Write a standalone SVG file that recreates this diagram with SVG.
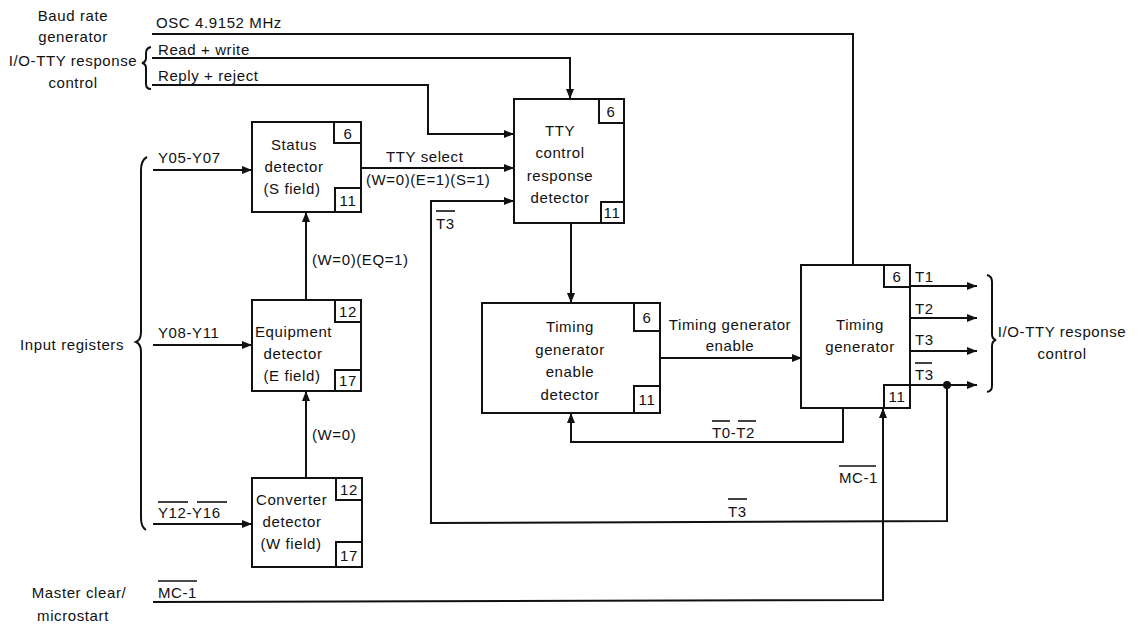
<svg xmlns="http://www.w3.org/2000/svg" width="1139" height="626" viewBox="0 0 1139 626">
<style>
text{font-family:"Liberation Sans",Arial,sans-serif;font-size:15px;letter-spacing:0.6px;fill:#111}
.m{text-anchor:middle}
.box{fill:#fff;stroke:#111;stroke-width:2}
.num{fill:#fff;stroke:#111;stroke-width:2}
.w{fill:none;stroke:#111;stroke-width:2}
.a{fill:none;stroke:#111;stroke-width:2;marker-end:url(#ah)}
.ob{stroke:#111;stroke-width:1.6}
</style>
<defs>
<marker id="ah" viewBox="0 0 10 8" refX="10" refY="4" markerWidth="5" markerHeight="4" orient="auto" markerUnits="strokeWidth">
<path d="M0,0 L10,4 L0,8 z" fill="#111"/>
</marker>
</defs>
<rect width="1139" height="626" fill="#fff"/>

<g id="labels-left">
<text class="m" x="73" y="21">Baud rate</text>
<text class="m" x="73" y="42">generator</text>
<text class="m" x="73" y="66">I/O-TTY response</text>
<text class="m" x="73" y="88">control</text>
<text x="156" y="28">OSC 4.9152 MHz</text>
<text x="158" y="55">Read + write</text>
<text x="158" y="81">Reply + reject</text>
<path class="w" d="M151,47 Q146,48 146,53 L146,58 Q146,62 142,63 Q146,64 146,68 L146,84 Q146,89 151,89"/>
<text x="20" y="350">Input registers</text>
<path class="w" d="M147,157 Q141,160 141,170 L141,332 Q141,340 136,342 Q141,344 141,352 L141,518 Q141,527 146,530"/>
<text class="m" x="79" y="598">Master clear/</text>
<text class="m" x="73" y="621">microstart</text>
</g>

<g id="connectors">
<path class="w" d="M152,34 L853,34 L853,265"/>
<path class="a" d="M152,58 L570,58 L570,99"/>
<path class="a" d="M152,85 L428,85 L428,134 L514,134"/>
<path class="a" d="M153,170 L252,170"/>
<text x="158" y="163">Y05-Y07</text>
<path class="a" d="M153,345 L252,345"/>
<text x="158" y="338">Y08-Y11</text>
<path class="a" d="M153,524 L252,524"/>
<text x="158" y="518">Y12-Y16</text>
<line class="ob" x1="158" y1="502" x2="188" y2="502"/>
<line class="ob" x1="197" y1="502" x2="227" y2="502"/>
<path class="a" d="M306,300 L306,212"/>
<text x="312" y="265">(W=0)(EQ=1)</text>
<path class="a" d="M306,478 L306,391"/>
<text x="312" y="440">(W=0)</text>
<path class="a" d="M361,168 L514,168"/>
<text x="386" y="162">TTY select</text>
<text x="366" y="185">(W=0)(E=1)(S=1)</text>
<path class="a" d="M571,223 L571,303"/>
<path class="a" d="M660,358 L802,358"/>
<text class="m" x="730" y="330">Timing generator</text>
<text class="m" x="730" y="351">enable</text>
<path class="a" d="M843,408 L843,442 L571,442 L571,413"/>
<text x="712" y="438">T0-T2</text>
<line class="ob" x1="712" y1="421" x2="730" y2="421"/>
<line class="ob" x1="738" y1="421" x2="756" y2="421"/>
<path class="a" d="M910,286 L977,286"/>
<path class="a" d="M910,318 L977,318"/>
<path class="a" d="M910,351 L977,351"/>
<path class="a" d="M910,385 L977,385"/>
<text x="915" y="282">T1</text>
<text x="915" y="314">T2</text>
<text x="915" y="345">T3</text>
<text x="915" y="380">T3</text>
<line class="ob" x1="915" y1="363" x2="932" y2="363"/>
<circle cx="947" cy="385" r="4" fill="#111"/>
<path class="a" d="M947,385 L947,521 L431,523 L431,201 L514,201"/>
<text x="436" y="229">T3</text>
<line class="ob" x1="436" y1="211" x2="455" y2="211"/>
<text x="728" y="517">T3</text>
<line class="ob" x1="728" y1="499" x2="747" y2="499"/>
<path class="a" d="M153,602 L883,600 L883,408"/>
<text x="158" y="598">MC-1</text>
<line class="ob" x1="158" y1="581" x2="197" y2="581"/>
<text x="839" y="483">MC-1</text>
<line class="ob" x1="839" y1="466" x2="876" y2="466"/>
<path class="w" d="M987,275 Q992,276 992,282 L992,334 Q992,339 996,340 Q992,341 992,346 L992,386 Q992,391 987,392"/>
<text class="m" x="1062" y="337">I/O-TTY response</text>
<text class="m" x="1062" y="359">control</text>
</g>

<g id="status">
<rect class="box" x="252" y="122" width="109" height="90"/>
<rect class="num" x="334" y="122" width="27" height="21"/>
<text class="m" x="348" y="139">6</text>
<rect class="num" x="335" y="188" width="26" height="24"/>
<text class="m" x="348" y="206">11</text>
<text class="m" x="294" y="150">Status</text>
<text class="m" x="294" y="172">detector</text>
<text class="m" x="292" y="194">(S field)</text>
</g>

<g id="equipment">
<rect class="box" x="252" y="300" width="109" height="91"/>
<rect class="num" x="335" y="300" width="26" height="22"/>
<text class="m" x="348" y="317">12</text>
<rect class="num" x="335" y="370" width="26" height="21"/>
<text class="m" x="348" y="386">17</text>
<text x="255" y="337">Equipment</text>
<text class="m" x="293" y="359">detector</text>
<text class="m" x="292" y="381">(E field)</text>
</g>

<g id="converter">
<rect class="box" x="252" y="478" width="110" height="89"/>
<rect class="num" x="336" y="478" width="26" height="22"/>
<text class="m" x="349" y="495">12</text>
<rect class="num" x="336" y="542" width="26" height="25"/>
<text class="m" x="349" y="561">17</text>
<text x="256" y="505">Converter</text>
<text class="m" x="292" y="527">detector</text>
<text class="m" x="291" y="549">(W field)</text>
</g>

<g id="tty">
<rect class="box" x="514" y="99" width="110" height="124"/>
<rect class="num" x="599" y="99" width="25" height="24"/>
<text class="m" x="611" y="117">6</text>
<rect class="num" x="601" y="202" width="23" height="21"/>
<text class="m" x="612" y="218">11</text>
<text class="m" x="560" y="136">TTY</text>
<text class="m" x="560" y="158">control</text>
<text class="m" x="560" y="181">response</text>
<text class="m" x="560" y="203">detector</text>
</g>

<g id="tged">
<rect class="box" x="482" y="303" width="178" height="110"/>
<rect class="num" x="634" y="303" width="26" height="28"/>
<text class="m" x="647" y="323">6</text>
<rect class="num" x="634" y="386" width="26" height="27"/>
<text class="m" x="647" y="405">11</text>
<text class="m" x="570" y="332">Timing</text>
<text class="m" x="570" y="355">generator</text>
<text class="m" x="570" y="377">enable</text>
<text class="m" x="570" y="400">detector</text>
</g>

<g id="tg">
<rect class="box" x="801" y="265" width="109" height="143"/>
<rect class="num" x="884" y="265" width="26" height="22"/>
<text class="m" x="897" y="282">6</text>
<rect class="num" x="884" y="385" width="26" height="23"/>
<text class="m" x="897" y="402">11</text>
<text class="m" x="860" y="330">Timing</text>
<text class="m" x="860" y="352">generator</text>
</g>
</svg>
